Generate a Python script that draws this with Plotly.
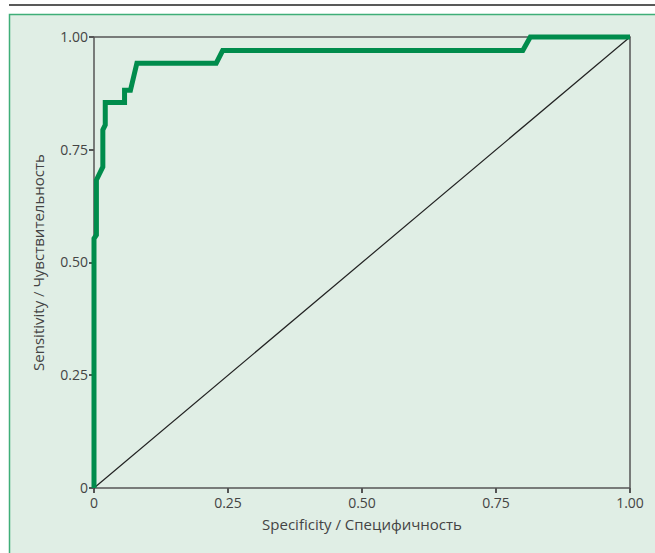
import plotly.graph_objects as go

# ROC curve
roc_x = [0.0, 0.0, 0.0045, 0.0045, 0.0165, 0.0165, 0.021, 0.021, 0.057, 0.057, 0.068, 0.080, 0.228, 0.240, 0.800, 0.814, 1.0]
roc_y = [0.0, 0.553, 0.561, 0.683, 0.712, 0.794, 0.805, 0.855, 0.855, 0.882, 0.882, 0.942, 0.942, 0.970, 0.970, 1.0, 1.0]

ref_x = [0, 1]
ref_y = [0, 1]

tick_vals = [0, 0.25, 0.5, 0.75, 1.0]
tick_text = ["0", "0.25", "0.50", "0.75", "1.00"]

x_title = "Specificity / Специфичность"
y_title = "Sensitivity / Чувствительность"

W, H = 655, 553
PAD = 5  # px of padding so the thick curve is not clipped at the frame
L, R, T, B = 94 - PAD, 25 - PAD, 37 - PAD, 65 - PAD
pw, ph = W - L - R, H - T - B
inner_w, inner_h = pw - 2 * PAD, ph - 2 * PAD
dx = PAD / inner_w
dy = PAD / inner_h

def px_x(p):
    return (p - L) / pw

def px_y(p):
    return (H - B - p) / ph

fig = go.Figure()
fig.add_trace(go.Scatter(x=ref_x, y=ref_y, mode="lines",
                         line=dict(color="#222222", width=1.2),
                         hoverinfo="skip", showlegend=False))
fig.add_trace(go.Scatter(x=roc_x, y=roc_y, mode="lines",
                         line=dict(color="#008c4c", width=5),
                         showlegend=False))

font = "Open Sans, Noto Sans, DejaVu Sans, sans-serif"

fig.update_layout(
    width=W, height=H,
    margin=dict(l=L, r=R, t=T, b=B),
    paper_bgcolor="white",
    plot_bgcolor="rgba(0,0,0,0)",
    font=dict(family=font, color="#444444", size=14),
    shapes=[
        dict(type="rect", xref="paper", yref="paper", layer="below",
             x0=px_x(9.5), x1=px_x(665), y0=px_y(565), y1=px_y(14.5),
             fillcolor="#e0eee5", line=dict(color="#3fae78", width=1.5)),
        dict(type="line", xref="paper", yref="paper", layer="below",
             x0=px_x(9), x1=px_x(656), y0=px_y(5), y1=px_y(5),
             line=dict(color="#222222", width=1.3)),
        # plot frame at the axis limits
        dict(type="rect", xref="x", yref="y", layer="below",
             x0=0, x1=1, y0=0, y1=1,
             fillcolor="rgba(0,0,0,0)", line=dict(color="#555555", width=1.5)),
    ],
    xaxis=dict(range=[-dx, 1 + dx], tickvals=tick_vals, ticktext=tick_text,
               showgrid=False, zeroline=False, showline=False,
               layer="below traces",
               ticks="inside", ticklen=PAD,
               tickcolor="#555555", tickwidth=1.5,
               title=dict(text=x_title, font=dict(size=15, color="#444444"), standoff=8),
               tickfont=dict(size=14, color="#444444")),
    yaxis=dict(range=[-dy, 1 + dy], tickvals=tick_vals, ticktext=tick_text,
               showgrid=False, zeroline=False, showline=False,
               layer="below traces",
               ticks="inside", ticklen=PAD,
               tickcolor="#555555", tickwidth=1.5,
               title=dict(text=y_title, font=dict(size=15, color="#444444"), standoff=12),
               tickfont=dict(size=14, color="#444444")),
)

fig.write_html("out.html", config={"displayModeBar": False},
               post_script="document.body.style.margin='0';document.body.style.overflow='hidden';")
